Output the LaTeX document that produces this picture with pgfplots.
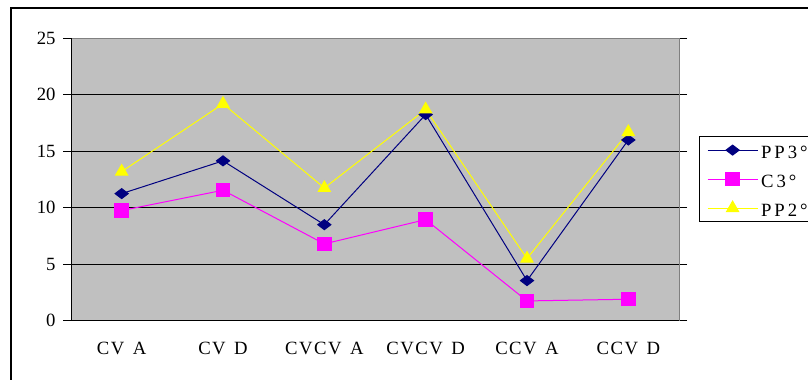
\documentclass[border=0pt]{standalone}
\usepackage{fontspec}
\setmainfont{Liberation Serif}
\newfontfamily\spaced[LetterSpace=16]{Liberation Serif}
\newfontfamily\catspaced[LetterSpace=8]{Liberation Serif}
\usepackage{pgfplots}
\pgfplotsset{compat=1.18}
\definecolor{plotgray}{HTML}{C0C0C0}
\definecolor{navyline}{HTML}{000080}
\definecolor{pinkline}{HTML}{FF00FF}
\definecolor{yellowline}{HTML}{FFFF00}
\definecolor{frameline}{HTML}{808080}
\newcommand{\chartfont}{\fontsize{18.7bp}{22bp}\selectfont}
\newcommand{\gap}{\hspace{8.5bp}}

\begin{document}
\begin{tikzpicture}[x=1bp,y=1bp]
\useasboundingbox (0,0) rectangle (808,379);
\clip (0,0) rectangle (808,379);
% outer chart frame
\draw[black, line width=1.2bp] (11,-10) -- (11,371) -- (830,371);
\begin{axis}[
  at={(71bp,58.3bp)}, anchor=south west,
  scale only axis, width=608bp, height=282.4bp,
  xmin=-0.5, xmax=5.5, ymin=0, ymax=25,
  axis background/.style={fill=plotgray},
  axis line style={draw=frameline, line width=0.8bp},
  ytick={0,5,...,25},
  ymajorgrids,
  major grid style={black, line width=0.8bp},
  tick style={black, line width=0.8bp},
  tick align=outside,
  major tick length=8bp,
  xtick={0,1,2,3,4,5},
  xticklabels={CV\gap A, CV\gap D, CVCV\gap A, CVCV\gap D, CCV\gap A, CCV\gap D},
  x tick style={draw=none},
  x tick label style={font=\catspaced\chartfont, yshift=-10bp},
  y tick label style={font=\chartfont, xshift=-4bp},
  /pgf/number format/assume math mode=true,
  legend style={at={(1.0329,0.654)}, anchor=north west,
    draw=black, line width=0.8bp, fill=white,
    font=\spaced\chartfont,
    inner xsep=7.7bp, inner ysep=4bp,
    row sep=9.6bp, column sep=3bp,
    nodes={inner sep=0pt, text height=17.9bp, text depth=1.5bp}},
  legend cell align=left,
  legend image code/.code={
    \draw[mark repeat=2, mark phase=2, #1]
      plot coordinates {(0bp,0bp) (25bp,0bp) (50bp,0bp)};},
]
\addplot[navyline, line width=1bp, mark=diamond*,
  mark options={solid, fill=navyline, draw=navyline, mark size=5bp, xscale=1.75}]
  coordinates {(0,11.25) (1,14.15) (2,8.5) (3,18.25) (4,3.55) (5,16.0)};
\addlegendentry{PP3°}
\addplot[pinkline, line width=1bp, mark=square*,
  mark options={solid, fill=pinkline, draw=pinkline, mark size=6.7bp}]
  coordinates {(0,9.75) (1,11.55) (2,6.8) (3,8.95) (4,1.75) (5,1.9)};
\addlegendentry{C3°}
\addplot[yellowline, line width=1bp, mark=triangle*,
  mark options={solid, fill=yellowline, draw=yellowline, mark size=7bp}]
  coordinates {(0,13.2) (1,19.2) (2,11.75) (3,18.7) (4,5.5) (5,16.7)};
\addlegendentry{PP2°}
% left and bottom axis lines in black
\draw[black, line width=0.8bp] (rel axis cs:0,0) -- (rel axis cs:1,0);
\draw[black, line width=0.8bp] (rel axis cs:0,0) -- (rel axis cs:0,1);
% category boundary ticks below the x axis
\pgfplotsinvokeforeach{-0.5,0.5,1.5,2.5,3.5,4.5,5.5}{
  \draw[black, line width=0.8bp] (axis cs:#1,0) -- ++(0bp,-5bp);
}
\end{axis}
\end{tikzpicture}
\end{document}
